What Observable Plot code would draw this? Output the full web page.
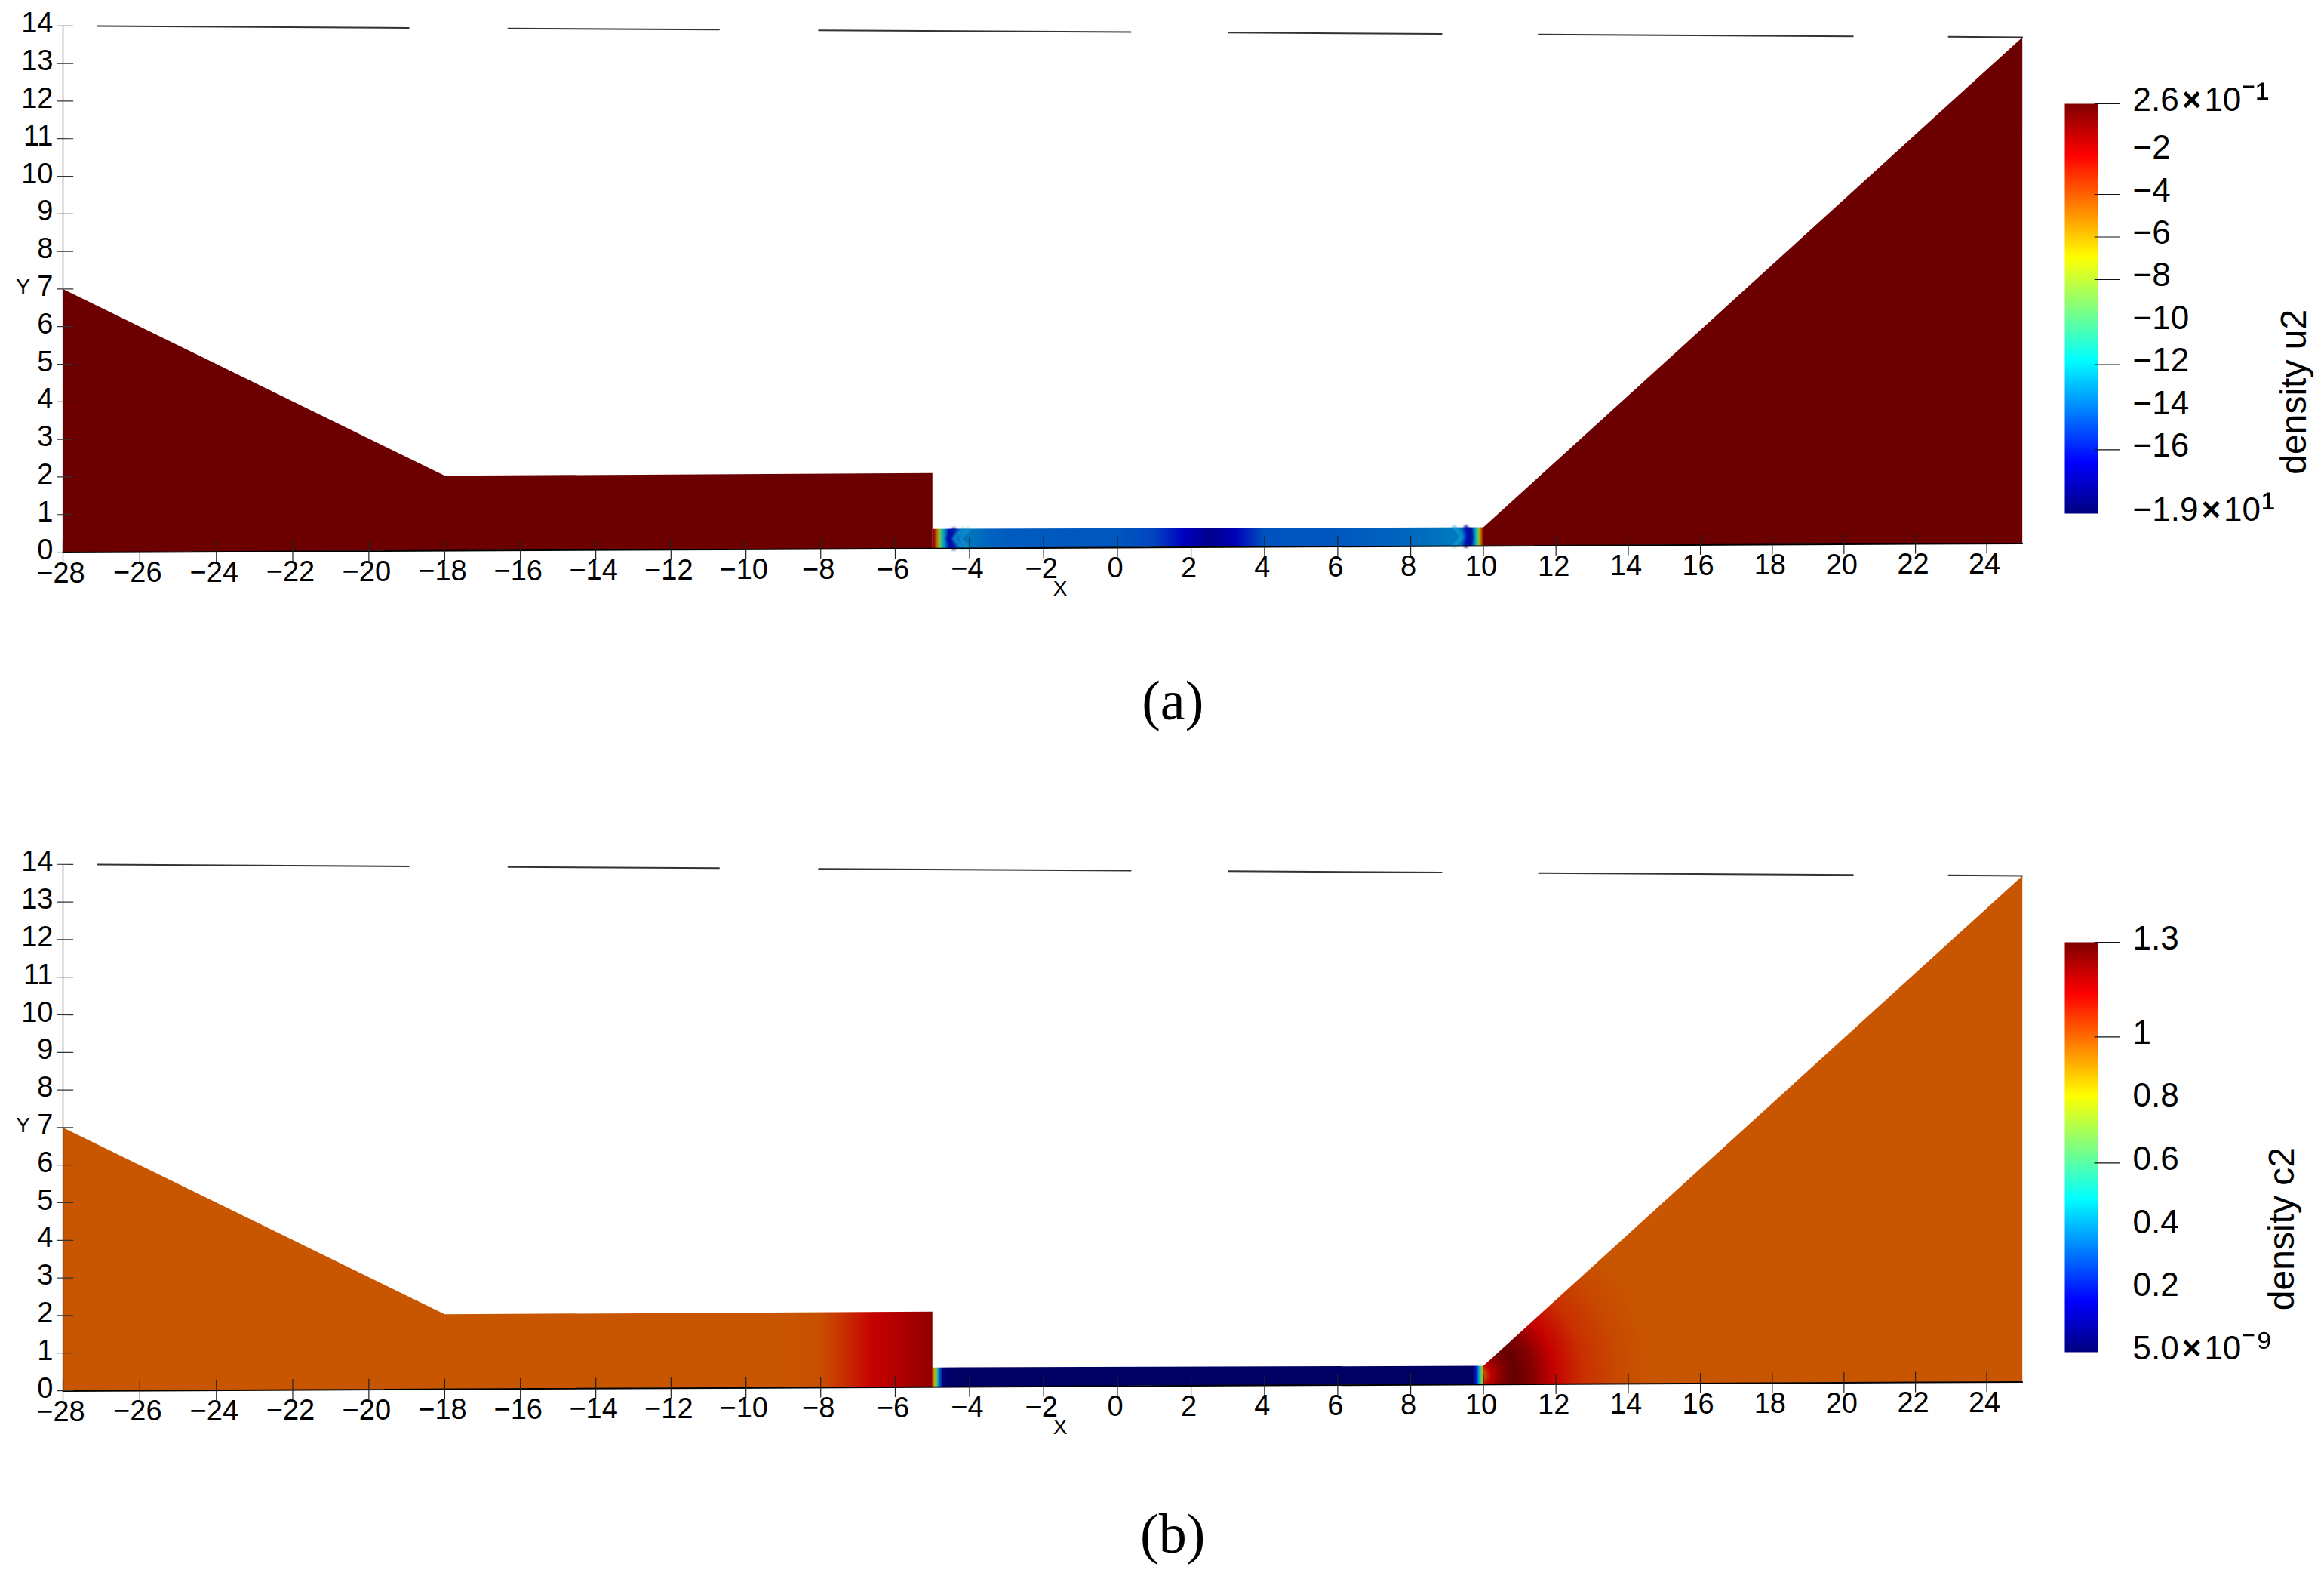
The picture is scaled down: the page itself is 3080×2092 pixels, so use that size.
<!DOCTYPE html>
<html><head><meta charset="utf-8">
<script src="https://cdn.jsdelivr.net/npm/d3@7"></script>
<script src="https://cdn.jsdelivr.net/npm/@observablehq/plot@0.6"></script>
<style>
html,body{margin:0;padding:0;background:#fff}
#page{position:relative;width:3080px;height:2092px;overflow:hidden}
#page svg{position:absolute;overflow:visible;background:transparent}
</style></head><body><div id="page"></div>
<script>
// axis values
const xTicks = [-28,-26,-24,-22,-20,-18,-16,-14,-12,-10,-8,-6,-4,-2,0,2,4,6,8,10,12,14,16,18,20,22,24];
const yTicks = [0,1,2,3,4,5,6,7,8,9,10,11,12,13,14];
// pieces of the upper axis line that remain visible
const topAxisPieces = [[-27.1,-18.95],[-16.32,-10.72],[-8.05,0.36],[3.02,8.85],[11.52,20.25],[22.93,25]];
// domain outline
const leftBlock = [[-28,0],[-28,7],[-18,2],[-5,2.03],[-5,0],[-28,0]];
const channel = [[-5,0],[-5,0.52],[10,0.5],[10,0],[-5,0]];
const rightBlock = [[10,0],[10,0.5],[25,14],[25,0],[10,0]];
// shock fronts seen in the u2 channel
const u2FrontsLight = [[[-4.2,0.5],[-4.42,0.25],[-4.2,0]],[[-4.05,0.5],[-4.25,0.25],[-4.05,0]],[[9.2,0.5],[9.42,0.25],[9.2,0]]];
const u2FrontsDark = [[[-4.42,0.5],[-4.58,0.25],[-4.42,0]],[[9.52,0.5],[9.66,0.25],[9.52,0]]];

// field u2 read along x
const u2Left = [[-28,0.26],[-5,0.26]];
const u2Channel = [[-5,0.26],[-4.97,-1],[-4.9,-4],[-4.82,-8],[-4.75,-11],[-4.65,-13.5],[-4.55,-16.5],[-4.42,-14.8],[-4,-13.6],[-3.6,-14],[-3,-14.3],[0,-14.4],[1,-14.9],[1.8,-16.6],[2.5,-17.8],[3.2,-16.8],[4,-14.5],[6,-14.4],[8,-14],[9,-13.6],[9.4,-13.6],[9.55,-16],[9.65,-17.6],[9.73,-14],[9.8,-11.5],[9.87,-8],[9.93,-5],[9.98,-2],[10,0.26]];
const u2Right = [[10,0.26],[25,0.26]];
const u2Radial = [[0,0.26],[10,0.26]];
const u2Ticks = [0.26,-2,-4,-6,-8,-10,-12,-14,-16,-19];
const u2Labels = ["2.6×10⁻¹","−2","−4","−6","−8","−10","−12","−14","−16","−1.9×10¹"];
const u2Marked = [0.26,-4,-6,-8,-12,-16];

// field c2 read along x
const c2Left = [[-28,1],[-9,1],[-8,1.01],[-7.4,1.06],[-6.6,1.14],[-6,1.17],[-5,1.23]];
const c2Channel = [[-5,1.15],[-4.95,0.85],[-4.88,0.6],[-4.82,0.35],[-4.72,0.05],[-4.6,0],[9.7,0],[9.8,0.2],[9.88,0.45],[9.95,0.7],[10,0.85]];
const c2Radial = [[0,0.9],[0.1,1],[0.3,1.15],[0.6,1.25],[0.95,1.3],[1.4,1.25],[2,1.14],[2.8,1.06],[3.7,1.02],[4.6,1]];
const c2Ticks = [1.3,1,0.8,0.6,0.4,0.2,5e-9];
const c2Labels = ["1.3","1","0.8","0.6","0.4","0.2","5.0×10⁻⁹"];
const c2Marked = [1.3,1,0.6];

// jet colours
const jetStops = [0,0.125,0.375,0.625,0.875,1];
const jetColors = ["#000080","#0000ff","#00ffff","#ffff00","#ff0000","#800000"];

// Camera of the original 3D view: a slight perspective.
const cam = (x,y) => {
  const u = x + 28, w = 1 + 0.000765*u;
  return [83 + 50.98*u/w, (731 + 0.323*u - 49.8*y)/w];
};
const camera = d3.geoTransform({point(x,y){const p=cam(x,y);this.stream.point(p[0],p[1]);}});
const line = c => ({type:"LineString",coordinates:c});
const poly = c => ({type:"Polygon",coordinates:[c]});
const fontAxis = "Liberation Sans Narrow, Liberation Sans, Arial, sans-serif";
const fontBar = "Liberation Sans, Arial, sans-serif";

function panel({id,top,height,lo,hi,lighting,chanLighting,left,chan,radial,frontsLight,frontsDark,ticks,labels,marked,title,titleDx,titleValue,caption,captionY}){
  const jet = d3.scaleLinear().domain(jetStops.map(t=>lo+t*(hi-lo))).range(jetColors);
  const shade = (v,k=lighting) => { const c=d3.rgb(jet(v)); return d3.rgb(c.r*k,c.g*k,c.b*k).formatHex(); };
  const defs = () => {
    const d = d3.create("svg:defs");
    const linear = (name,stops,k) => {
      const [x0,x1] = [cam(stops[0][0],0)[0],cam(stops[stops.length-1][0],0)[0]];
      const g = d.append("linearGradient").attr("id",name).attr("gradientUnits","userSpaceOnUse")
        .attr("x1",x0).attr("x2",x1).attr("y1",0).attr("y2",0);
      for(const [x,v] of stops) g.append("stop").attr("offset",(cam(x,0)[0]-x0)/(x1-x0)).attr("stop-color",shade(v,k));
    };
    linear(id+"L",left,lighting); linear(id+"C",chan,chanLighting);
    const c = cam(9.9,0.25), R = radial[radial.length-1][0];
    const r = d.append("radialGradient").attr("id",id+"R").attr("gradientUnits","userSpaceOnUse")
      .attr("cx",c[0]).attr("cy",c[1]).attr("r",R*49);
    for(const [t,v] of radial) r.append("stop").attr("offset",t/R).attr("stop-color",shade(v));
    return d.node();
  };
  const main = Plot.plot({
    width:3080,height,margin:0,projection:camera,
    style:{background:"transparent",overflow:"visible"},
    marks:[
      defs,
      Plot.geo([poly(leftBlock)],{fill:`url(#${id}L)`,stroke:"none"}),
      Plot.geo([poly(channel)],{fill:`url(#${id}C)`,stroke:"none"}),
      Plot.geo([poly(rightBlock)],{fill:`url(#${id}R)`,stroke:"none"}),
      Plot.geo(frontsLight.map(line),{fill:"none",stroke:"#18a8d0",strokeWidth:5,strokeOpacity:0.6,imageFilter:"blur(1.5px)"}),
      Plot.geo(frontsDark.map(line),{fill:"none",stroke:"#0010a0",strokeWidth:6,strokeOpacity:0.85,imageFilter:"blur(1.5px)"}),
      Plot.geo([line([[-28,-0.01],[25,-0.01]])],{fill:"none",stroke:"#000",strokeWidth:2}),
      Plot.geo([line([[-28,0],[-28,14]])],{fill:"none",stroke:"#333",strokeWidth:1.3}),
      Plot.geo(topAxisPieces.map(p=>line([[p[0],14],[p[1],14]])),{fill:"none",stroke:"#333",strokeWidth:2}),
      Plot.geo(xTicks.map(x=>line([[x,-0.27],[x,0.27]])),{fill:"none",stroke:"#222",strokeWidth:1.2}),
      Plot.geo(yTicks.map(y=>line([[-28.14,y],[-27.74,y]])),{fill:"none",stroke:"#333",strokeWidth:1.2}),
      Plot.text(xTicks,{x:d=>d,y:()=>0,text:d=>String(d).replace("-","−"),dx:-3,dy:28,fontSize:38,fontFamily:fontAxis,fill:"#000"}),
      Plot.text(yTicks,{x:()=>-28,y:d=>d,text:d=>String(d),textAnchor:"end",dx:-13,dy:-3,fontSize:38,fontFamily:fontAxis,fill:"#000"}),
      Plot.text(["X"],{x:()=>-1.55,y:()=>0,text:d=>d,dy:55,fontSize:28,fontFamily:fontAxis,fill:"#000"}),
      Plot.text(["Y"],{x:()=>-28,y:()=>7,text:d=>d,dx:-53,dy:-3,fontSize:28,fontFamily:fontAxis,fill:"#000"}),
      Plot.text([caption],{x:()=>1.5,y:()=>0,text:d=>d,dy:captionY,fontSize:74,fontFamily:"Liberation Serif, serif",fill:"#000"})
    ]
  });
  main.style.left="0";main.style.top=top+"px";
  document.getElementById("page").appendChild(main);

  const span = 543;
  const bar = Plot.plot({
    width:380,height:span+80,marginTop:40,marginBottom:40,marginLeft:36,marginRight:300,
    style:{background:"transparent",overflow:"visible"},
    x:{domain:[0,1],axis:null},
    y:{domain:[lo,hi],axis:null},
    color:{type:"linear",domain:jetStops.map(t=>lo+t*(hi-lo)),range:jetColors},
    marks:[
      Plot.raster({x1:0,x2:1,y1:hi,y2:lo,width:2,height:span,fill:(x,y)=>y,imageRendering:"auto"}),
      Plot.ruleY(marked,{y:d=>d,x1:()=>0.9,x2:()=>1.66,stroke:"#111",strokeWidth:1.2}),
      Plot.axisY({anchor:"right",ticks,tickSize:0,tickPadding:46,tickFormat:d=>labels[ticks.indexOf(d)],textAnchor:"start",dy:-5,fontSize:44,fontFamily:fontBar,label:null,fill:"#000"}),
      Plot.text([title],{frameAnchor:"right",y:()=>titleValue,text:d=>d,rotate:-90,dx:titleDx,fontSize:48,fontFamily:fontBar,fill:"#000"})
    ]
  });
  // scientific labels: heavy multiplication sign and larger exponent, as in the colour bar
  d3.select(bar).selectAll("text").filter(function(){return this.textContent.includes("×");}).each(function(){
    const m = this.textContent.match(/^(.*)×10(.*)$/);
    this.innerHTML = `${m[1]}<tspan font-weight="bold" dx="4" dy="0">×</tspan><tspan dx="4">10</tspan><tspan font-size="54" dx="1">${m[2]}</tspan>`;
  });
  bar.style.left="2700px";bar.style.top=(top+97)+"px";
  document.getElementById("page").appendChild(bar);
}

panel({id:"a",top:0,height:1111,lo:-19,hi:0.26,lighting:0.84,chanLighting:0.75,left:u2Left,chan:u2Channel,radial:u2Radial,frontsLight:u2FrontsLight,frontsDark:u2FrontsDark,
  ticks:u2Ticks,labels:u2Labels,marked:u2Marked,title:"density u2",titleDx:260,titleValue:-9.4,caption:"(a)",captionY:205});
panel({id:"b",top:1111,height:981,lo:5e-9,hi:1.3,lighting:0.784,chanLighting:0.784,left:c2Left,chan:c2Channel,radial:c2Radial,frontsLight:[],frontsDark:[],
  ticks:c2Ticks,labels:c2Labels,marked:c2Marked,title:"density c2",titleDx:244,titleValue:0.65,caption:"(b)",captionY:198});
</script></body></html>
